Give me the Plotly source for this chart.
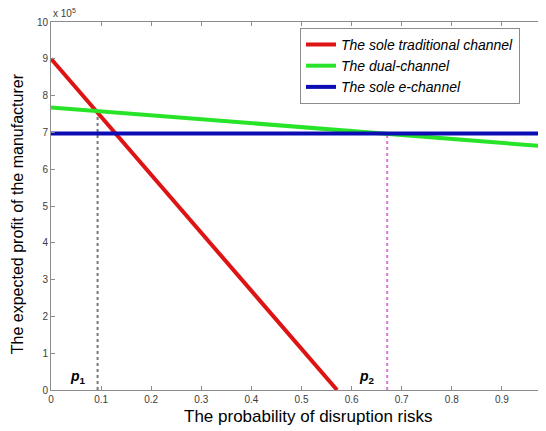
import plotly.graph_objects as go

# data (profit in units of 10^5)
x_trad = [0.0, 0.571]
y_trad = [9.0, 0.0]
x_dual = [0.0, 0.988]
y_dual = [7.68, 6.62]
x_e = [0.0, 0.988]
y_e = [6.97, 6.97]
p_x = [0.093, 0.671]
p_top = [7.55, 6.97]
x_ticks = [0, 0.1, 0.2, 0.3, 0.4, 0.5, 0.6, 0.7, 0.8, 0.9]
y_ticks = [0, 1, 2, 3, 4, 5, 6, 7, 8, 9, 10]

FONT = "Arial, Liberation Sans, sans-serif"

fig = go.Figure()
fig.add_trace(go.Scatter(x=[p_x[0], p_x[0]], y=[0, p_top[0]], mode="lines",
                         line=dict(color="rgb(120,120,120)", width=2, dash="dot"),
                         showlegend=False, hoverinfo="skip"))
fig.add_trace(go.Scatter(x=[p_x[1], p_x[1]], y=[0, p_top[1]], mode="lines",
                         line=dict(color="rgb(220,120,220)", width=2, dash="dot"),
                         showlegend=False, hoverinfo="skip"))
fig.add_trace(go.Scatter(x=x_trad, y=y_trad, mode="lines", name="<i>The sole traditional channel</i>",
                         line=dict(color="rgb(222,20,20)", width=4)))
fig.add_trace(go.Scatter(x=x_dual, y=y_dual, mode="lines", name="<i>The dual-channel</i>",
                         line=dict(color="rgb(40,228,40)", width=4)))
fig.add_trace(go.Scatter(x=x_e, y=y_e, mode="lines", name="<i>The sole e-channel</i>",
                         line=dict(color="rgb(12,12,180)", width=4)))

axis_common = dict(showgrid=False, zeroline=False, showline=True, linecolor="rgb(140,140,140)",
                   linewidth=1, ticks="inside", ticklen=4, tickcolor="rgb(140,140,140)",
                   automargin=False,
                   tickfont=dict(family=FONT, size=10, color="rgb(60,60,60)"))

fig.update_xaxes(range=[0, 0.988], tickvals=x_ticks, ticktext=[str(v) if v else "0" for v in x_ticks],
                 mirror="ticks", **axis_common)
fig.update_yaxes(range=[0, 10], tickvals=y_ticks, **axis_common)

fig.add_annotation(x=0.52, y=-0.073, xref="paper", yref="paper", xanchor="center", yanchor="middle",
                   text="The probability of disruption risks", showarrow=False,
                   font=dict(family=FONT, size=17, color="black"))
fig.add_annotation(x=-0.067, y=0.48, xref="paper", yref="paper", xanchor="center", yanchor="middle",
                   text="The expected profit of the manufacturer", showarrow=False, textangle=-90,
                   font=dict(family=FONT, size=16, color="black"))
fig.add_annotation(x=0, y=1, xref="paper", yref="paper", xanchor="left", yanchor="bottom",
                   text="x 10<sup>5</sup>", showarrow=False, xshift=0, yshift=1,
                   font=dict(family=FONT, size=10, color="rgb(60,60,60)"))
fig.add_annotation(x=p_x[0] - 0.02, y=0.05, xanchor="right", yanchor="bottom",
                   text="<i><b>p</b></i><sub><b>1</b></sub>", showarrow=False,
                   font=dict(family=FONT, size=14, color="black"))
fig.add_annotation(x=p_x[1] - 0.02, y=0.05, xanchor="right", yanchor="bottom",
                   text="<i><b>p</b></i><sub><b>2</b></sub>", showarrow=False,
                   font=dict(family=FONT, size=14, color="black"))

# the page body has an 8px default margin, so the figure is sized to fill the rest
fig.update_layout(
    width=538, height=423,
    margin=dict(l=43, r=0, t=14, b=41),
    paper_bgcolor="white", plot_bgcolor="white",
    legend=dict(x=0.503, y=0.984, xanchor="left", yanchor="top",
                bordercolor="rgb(140,140,140)", borderwidth=1, bgcolor="white",
                font=dict(family=FONT, size=14, color="black"),
                tracegroupgap=0, itemwidth=30),
)
fig.write_html("out.html")
